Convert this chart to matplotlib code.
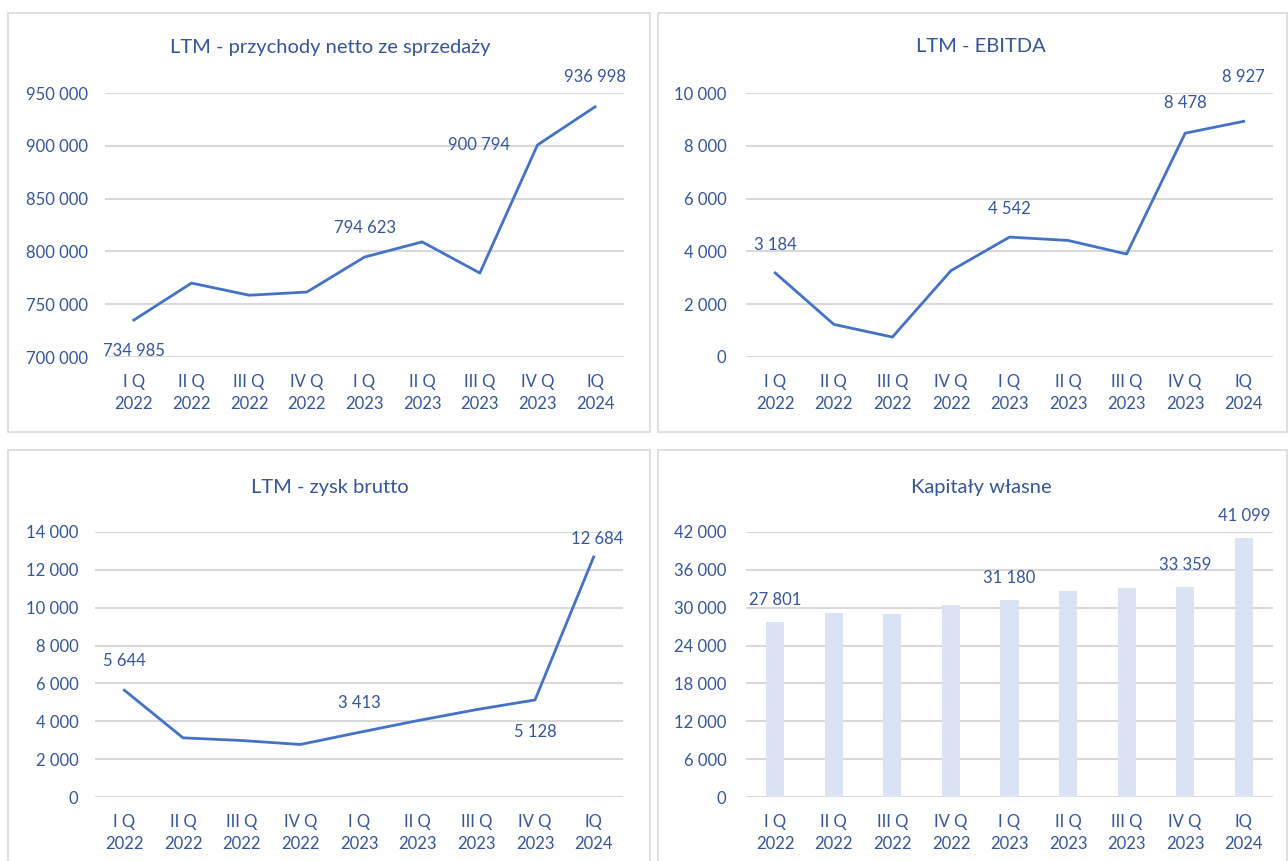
import matplotlib
matplotlib.use("Agg")
import matplotlib.pyplot as plt
from matplotlib.patches import Rectangle
from matplotlib.ticker import FuncFormatter

quarters = ["I Q\n2022", "II Q\n2022", "III Q\n2022", "IV Q\n2022",
            "I Q\n2023", "II Q\n2023", "III Q\n2023", "IV Q\n2023", "IQ\n2024"]

przychody = [734985, 770000, 758500, 761500, 794623, 809000, 779500, 900794, 936998]
ebitda = [3184, 1235, 755, 3270, 4542, 4415, 3900, 8478, 8927]
zysk_brutto = [5644, 3125, 2985, 2775, 3413, 4035, 4615, 5128, 12684]
kapitaly = [27801, 29160, 29050, 30470, 31180, 32630, 33160, 33359, 41099]

TXT = "#34569C"
LINE = "#4472C4"
BAR = "#DAE3F3"
GRID = "#D9D9D9"

plt.rcParams['font.family'] = ['Lato', 'DejaVu Sans']

W, H = 1288, 861
fig = plt.figure(figsize=(W / 100, H / 100), dpi=100)


def px_rect(x0, y0, x1, y1):
    return [x0 / W, 1 - y1 / H, (x1 - x0) / W, (y1 - y0) / H]


# chart area frames
for x0, y0, x1, y1 in [(8, 13, 650, 432), (658, 13, 1287, 432),
                       (8, 450, 650, 866), (658, 450, 1287, 866)]:
    fig.patches.append(Rectangle((x0 / W, 1 - y1 / H), (x1 - x0) / W, (y1 - y0) / H,
                                 transform=fig.transFigure, fill=False,
                                 edgecolor=GRID, linewidth=1.2))

fmt = FuncFormatter(lambda v, p: f"{int(v):,}".replace(",", " "))


def style(ax, title, ylim, step, title_x, title_y, ypad=14):
    ax.set_xlim(-0.5, 8.5)
    ax.set_ylim(*ylim)
    ax.set_yticks(range(ylim[0], ylim[1] + 1, step))
    ax.yaxis.set_major_formatter(fmt)
    ax.set_xticks(range(len(quarters)))
    ax.set_xticklabels(quarters, linespacing=1.45)
    ax.grid(axis='y', color=GRID, linewidth=1.5)
    ax.set_axisbelow(True)
    for s in ax.spines.values():
        s.set_visible(False)
    ax.tick_params(length=0, labelsize=12, colors=TXT)
    ax.tick_params(axis='y', pad=ypad)
    ax.tick_params(axis='x', pad=12)
    fig.text(title_x / W, 1 - title_y / H, title,
             ha='center', va='center', fontsize=14.5, color=TXT)


def label(ax, i, v, dx, dy):
    ax.annotate(f"{v:,}".replace(",", " "), (i, v), xytext=(dx, dy),
                textcoords='offset pixels', ha='center', va='center',
                fontsize=12, color=TXT, annotation_clip=False)


# LTM - przychody
ax1 = fig.add_axes(px_rect(105, 93, 624, 357))
ax1.plot(range(9), przychody, color=LINE, linewidth=2, clip_on=False)
style(ax1, "LTM - przychody netto ze sprzedaży", (700000, 950000), 50000, 330, 47, ypad=12)
label(ax1, 0, przychody[0], 0, -31)
label(ax1, 4, przychody[4], 0, 29)
label(ax1, 7, przychody[7], -58, 0)
label(ax1, 8, przychody[8], 0, 30)

# LTM - EBITDA
ax2 = fig.add_axes(px_rect(746, 93, 1273, 357))
ax2.plot(range(9), ebitda, color=LINE, linewidth=2, clip_on=False)
style(ax2, "LTM - EBITDA", (0, 10000), 2000, 981, 47)
label(ax2, 0, ebitda[0], 0, 28)
label(ax2, 4, ebitda[4], 0, 28)
label(ax2, 7, ebitda[7], 0, 30)
label(ax2, 8, ebitda[8], 0, 44)

# LTM - zysk brutto
ax3 = fig.add_axes(px_rect(95, 532, 623, 797))
ax3.plot(range(9), zysk_brutto, color=LINE, linewidth=2, clip_on=False)
style(ax3, "LTM - zysk brutto", (0, 14000), 2000, 330, 488, ypad=12)
label(ax3, 0, zysk_brutto[0], 0, 29)
label(ax3, 4, zysk_brutto[4], 0, 29)
label(ax3, 7, zysk_brutto[7], 0, -32)
label(ax3, 8, zysk_brutto[8], 4, 18)

# Kapitały własne
ax4 = fig.add_axes(px_rect(746, 532, 1273, 797))
ax4.bar(range(9), kapitaly, width=0.31, color=BAR, zorder=2)
style(ax4, "Kapitały własne", (0, 42000), 6000, 981, 488)
label(ax4, 0, kapitaly[0], 0, 22)
label(ax4, 4, kapitaly[4], 0, 22)
label(ax4, 7, kapitaly[7], 0, 22)
label(ax4, 8, kapitaly[8], 0, 22)

fig.savefig("out.png", dpi=100, facecolor='white')
